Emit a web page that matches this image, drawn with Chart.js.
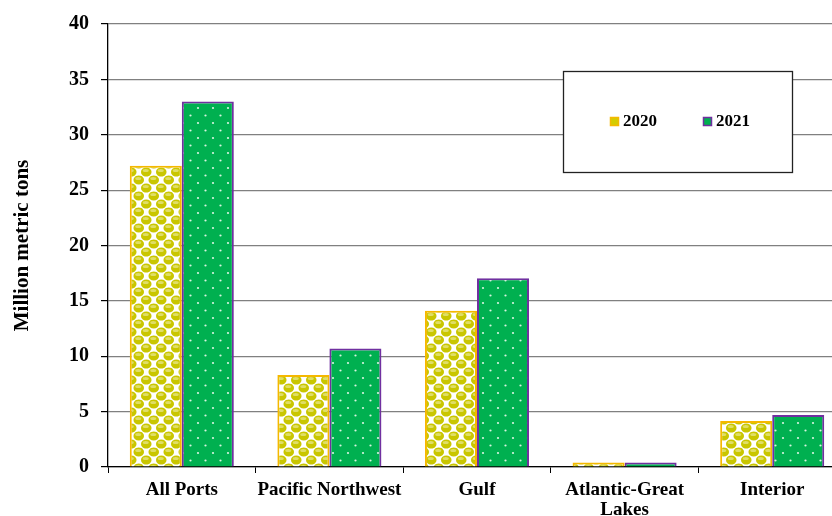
<!DOCTYPE html>
<html><head><meta charset="utf-8">
<script src="https://cdn.jsdelivr.net/npm/chart.js@4"></script>
<style>
html,body{margin:0;padding:0;background:#fff;overflow:hidden;width:832px;height:516px;}
#wrap{position:relative;width:846px;height:516px;}
</style></head>
<body><div id="wrap"><canvas id="c" width="846" height="516"></canvas></div>
<script>
const categories = ["All Ports", ["Pacific Northwest"], "Gulf", ["Atlantic-Great", "Lakes"], "Interior"];
const seriesLabels = ["2020", "2021"];
const values2020 = [27.2, 8.3, 14.1, 0.4, 4.15];
const values2021 = [33.0, 10.7, 17.05, 0.4, 4.7];
const yTicks = [0, 5, 10, 15, 20, 25, 30, 35, 40];

function makeYellow(){
  const W=15, H=16;
  const c=document.createElement('canvas'); c.width=W; c.height=H;
  const g=c.getContext('2d');
  g.fillStyle='#ffffff'; g.fillRect(0,0,W,H);
  const circ=(x,y)=>{
    g.beginPath();g.ellipse(x,y,5.3,4.6,0,0,Math.PI*2);g.fillStyle='#c9c600';g.fill();
    g.beginPath();g.ellipse(x-0.5,y-1.6,3.0,1.5,0,0,Math.PI*2);g.fillStyle='#e0de66';g.fill();
  };
  const pts=[[3.75,4],[11.25,12]];
  for(const [x,y] of pts) for(const dx of [-W,0,W]) for(const dy of [-H,0,H]) circ(x+dx,y+dy);
  return g.createPattern(c,'repeat');
}
function makeGreen(){
  const c=document.createElement('canvas'); c.width=15; c.height=15;
  const g=c.getContext('2d');
  g.fillStyle='#00b050'; g.fillRect(0,0,15,15);
  g.fillStyle='#d8f5e0';
  g.beginPath();g.arc(3,3,1.1,0,Math.PI*2);g.fill();
  g.beginPath();g.arc(10.5,10.5,1.1,0,Math.PI*2);g.fill();
  return g.createPattern(c,'repeat');
}
const yellowPat = makeYellow();
const greenPat = makeGreen();
const legendSwatch = {"2020":{fill:'#d4cc00',border:'#f5b800'}, "2021":{fill:'#00b050',border:'#7030a0'}};

const legendBox = {
  id:'legendBox',
  afterDraw(chart){
    const ctx=chart.ctx;
    ctx.save();
    ctx.fillStyle='#fff';
    ctx.fillRect(563.5,71.5,229,101);
    ctx.strokeStyle='#222'; ctx.lineWidth=1.3;
    ctx.strokeRect(563.5,71.5,229,101);
    const xs=[610,703];
    chart.data.datasets.forEach((ds,i)=>{
      const sw=legendSwatch[ds.label];
      ctx.fillStyle=sw.fill; ctx.fillRect(xs[i],117,9,9);
      ctx.strokeStyle=sw.border; ctx.lineWidth=1.5; ctx.strokeRect(xs[i]+0.5,117.5,8,8);
      ctx.fillStyle='#000'; ctx.font='bold 17px "Liberation Serif"';
      ctx.textBaseline='middle'; ctx.textAlign='left';
      ctx.fillText(ds.label, xs[i]+13, 122);
    });
    ctx.restore();
  }
};

new Chart(document.getElementById('c'), {
  type:'bar',
  data:{
    labels:categories,
    datasets:[
      {label:seriesLabels[0], data:values2020, backgroundColor:yellowPat, borderColor:'#f5b800', borderWidth:2},
      {label:seriesLabels[1], data:values2021, backgroundColor:greenPat, borderColor:'#7030a0', borderWidth:2}
    ]
  },
  options:{
    responsive:false, animation:false, devicePixelRatio:1,
    layout:{padding:{top:11,right:0,bottom:0,left:0}},
    plugins:{legend:{display:false}, tooltip:{enabled:false}},
    datasets:{bar:{categoryPercentage:0.705, barPercentage:1.0}},
    scales:{
      x:{
        grid:{display:true, drawOnChartArea:false, drawTicks:true, tickLength:6, offset:true, color:'#000', lineWidth:1},
        border:{display:true, color:'#000', width:1.3},
        ticks:{color:'#000', font:{family:'"Liberation Serif"', size:19, weight:'bold', lineHeight:1.05}, padding:7, maxRotation:0, autoSkip:false},
        afterFit(s){ s.height = 49; }
      },
      y:{
        min:0, max:40,
        afterBuildTicks(s){ s.ticks = yTicks.map(v=>({value:v})); },
        grid:{color:'#808080', lineWidth:1.2, drawTicks:true, tickLength:7, tickColor:'#000'},
        border:{display:true, color:'#000', width:1.3},
        ticks:{color:'#000', font:{family:'"Liberation Serif"', size:20, weight:'bold'}, padding:12},
        title:{display:true, text:'Million metric tons', color:'#000', font:{family:'"Liberation Serif"', size:21, weight:'bold'}, padding:{top:10,bottom:0}},
        afterFit(s){ s.width = 108; }
      }
    }
  },
  plugins:[legendBox]
});
</script></body></html>
